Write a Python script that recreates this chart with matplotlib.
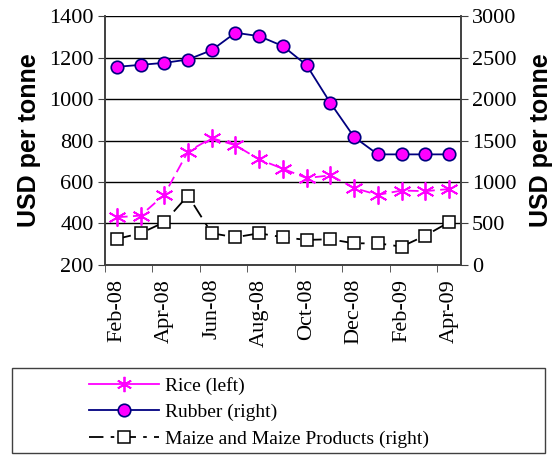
import matplotlib
matplotlib.use("Agg")
import matplotlib.pyplot as plt
from matplotlib.patches import Rectangle
from matplotlib.lines import Line2D

# monthly prices, Feb-08 .. Apr-09
months = ["Feb-08", "Mar-08", "Apr-08", "May-08", "Jun-08", "Jul-08", "Aug-08", "Sep-08",
          "Oct-08", "Nov-08", "Dec-08", "Jan-09", "Feb-09", "Mar-09", "Apr-09"]
rice = [430, 438, 538, 747, 812, 777, 709, 664, 619, 632, 571, 538, 559, 556, 566]
rubber = [2388, 2412, 2436, 2476, 2589, 2799, 2758, 2638, 2408, 1953, 1542, 1333, 1333, 1333, 1333]
maize = [314, 382, 515, 837, 382, 334, 382, 334, 302, 310, 261, 261, 221, 354, 515]

serif = "Liberation Serif"
sans = "Liberation Sans"

fig = plt.figure(figsize=(5.58, 4.59), dpi=100)
ax = fig.add_axes([0.188, 0.4227, 0.638, 0.5423])
ax2 = ax.twinx()

x = list(range(len(months)))

ax.plot(x, rice, color="#FF00FF", linestyle=(0, (6, 3)), linewidth=1.3,
        marker=(6, 2, 0), markersize=13, markeredgewidth=1.3)
l2, = ax2.plot(x, rubber, color="#000080", linewidth=1.3, marker="o", markersize=9,
               markerfacecolor="#FF00FF", markeredgecolor="#000080", markeredgewidth=1.2,
               label="Rubber (right)")
l3, = ax2.plot(x, maize, color="black", linestyle=(0, (8, 4, 2, 4)), linewidth=1.3,
               marker="s", markersize=9, markerfacecolor="white", markeredgecolor="black",
               markeredgewidth=1.1, label="Maize and Maize Products (right)")
# legend shows the rice series with a solid line
l1 = Line2D([], [], color="#FF00FF", linewidth=1.3, marker=(6, 2, 0), markersize=11,
            markeredgewidth=1.3, label="Rice (left)")

ax.set_ylim(200, 1400)
ax.set_yticks(range(200, 1401, 200))
ax2.set_ylim(0, 3000)
ax2.set_yticks(range(0, 3001, 500))
ax.set_xlim(-0.5, len(months) - 0.5)

ax.set_xticks(x[::2])
ax.set_xticklabels(months[::2], rotation=90)
ax.set_xticks([i - 0.5 for i in range(0, len(months), 2)], minor=True)
ax.tick_params(axis="x", which="major", length=0, pad=10)
ax.tick_params(axis="x", which="minor", length=5, color="#404040")

ax.grid(axis="y", color="black", linewidth=1)
ax.set_axisbelow(True)

for a in (ax, ax2):
    a.spines["top"].set_visible(False)
    for s in a.spines.values():
        s.set_color("#404040")
        s.set_linewidth(1.2)
    for lab in a.get_xticklabels() + a.get_yticklabels():
        lab.set_fontfamily(serif)
        lab.set_fontsize(16)
ax.tick_params(axis="y", length=5, color="#404040", pad=3)
ax2.tick_params(axis="y", length=5, color="#404040", pad=3)

ax.set_ylabel("USD per tonne", fontfamily=sans, fontweight="bold", fontsize=18, labelpad=6)
ax2.set_ylabel("USD per tonne", fontfamily=sans, fontweight="bold", fontsize=18,
               rotation=90, labelpad=9)

# legend box below the chart
fig.patches.append(Rectangle((12 / 558, 1 - 453 / 459), 533 / 558, 85 / 459,
                             transform=fig.transFigure, facecolor="white",
                             edgecolor="#404040", linewidth=1))
fig.legend(handles=[l1, l2, l3], loc="upper left", bbox_to_anchor=(0.145, 1 - 369 / 459),
           frameon=False, prop={"family": serif, "size": 14}, handlelength=3.6,
           handletextpad=0.3, labelspacing=0.45, borderaxespad=0)

fig.savefig("out.png", dpi=100)
